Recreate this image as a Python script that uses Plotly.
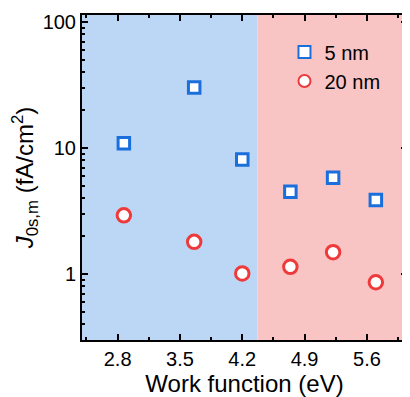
import plotly.graph_objects as go

work_function = [2.87, 3.66, 4.20, 4.74, 5.22, 5.70]
j_5nm = [10.9, 30.3, 8.1, 4.5, 5.8, 3.87]
j_20nm = [2.92, 1.80, 1.01, 1.14, 1.49, 0.86]
x_tick_vals = [2.8, 3.5, 4.2, 4.9, 5.6]
x_tick_text = ["2.8", "3.5", "4.2", "4.9", "5.6"]
y_tick_vals = [1, 10, 100]
y_tick_text = ["1", "10", "100"]
x_range = [2.4, 6.05]
y_range_log = [-0.524, 2.056]
region_boundary = 4.37

blue = "#1a6fdd"
red = "#ee3a3a"
font = "Liberation Sans, Arial, sans-serif"

fig = go.Figure()
fig.add_shape(type="rect", xref="x", yref="paper", x0=x_range[0], x1=region_boundary,
              y0=0, y1=1, fillcolor="#bcd6f5", line_width=0, layer="below")
fig.add_shape(type="rect", xref="x", yref="paper", x0=region_boundary, x1=x_range[1],
              y0=0, y1=1, fillcolor="#f9c4c4", line_width=0, layer="below")

fig.add_trace(go.Scatter(x=work_function, y=j_5nm, mode="markers", name="5 nm",
                         marker=dict(symbol="square", size=11.5, color="white",
                                     line=dict(color=blue, width=3))))
fig.add_trace(go.Scatter(x=work_function, y=j_20nm, mode="markers", name="20 nm",
                         marker=dict(symbol="circle", size=13.5, color="white",
                                     line=dict(color=red, width=3))))

# page body has an 8px margin; the figure is sized so it fits the 410x397 window
fig.update_layout(
    width=402, height=389,
    margin=dict(l=74, r=3, t=7, b=57, autoexpand=False),
    paper_bgcolor="white", plot_bgcolor="white",
    font=dict(family=font, size=20, color="black"),
    showlegend=True,
    legend=dict(x=0.623, y=0.946, xanchor="left", yanchor="top", bgcolor="rgba(0,0,0,0)",
                font=dict(size=20), itemsizing="constant", tracegroupgap=0),
)
fig.update_xaxes(
    range=x_range, tickvals=x_tick_vals, ticktext=x_tick_text, automargin=False,
    showline=True, linewidth=2, linecolor="black", mirror="ticks",
    ticks="inside", ticklen=6, tickwidth=2, tickcolor="black",
    minor=dict(ticks="inside", ticklen=3, tickwidth=2, tickcolor="black", dtick=0.35, tick0=2.8),
    showgrid=False, zeroline=False,
    title=dict(text="Work function (eV)", font=dict(size=24), standoff=2),
    tickfont=dict(size=20),
)
fig.update_yaxes(
    type="log", range=y_range_log, tickvals=y_tick_vals, ticktext=y_tick_text, automargin=False,
    showline=True, linewidth=2, linecolor="black", mirror="ticks",
    ticks="inside", ticklen=6, tickwidth=2, tickcolor="black",
    minor=dict(ticks="inside", ticklen=3, tickwidth=1.5, tickcolor="black", dtick="D1"),
    showgrid=False, zeroline=False,
    title=dict(text="<i>J</i><sub>0s,m</sub> (fA/cm<sup>2</sup>)", font=dict(size=24), standoff=5),
    tickfont=dict(size=20),
)
fig.write_html("out.html")
